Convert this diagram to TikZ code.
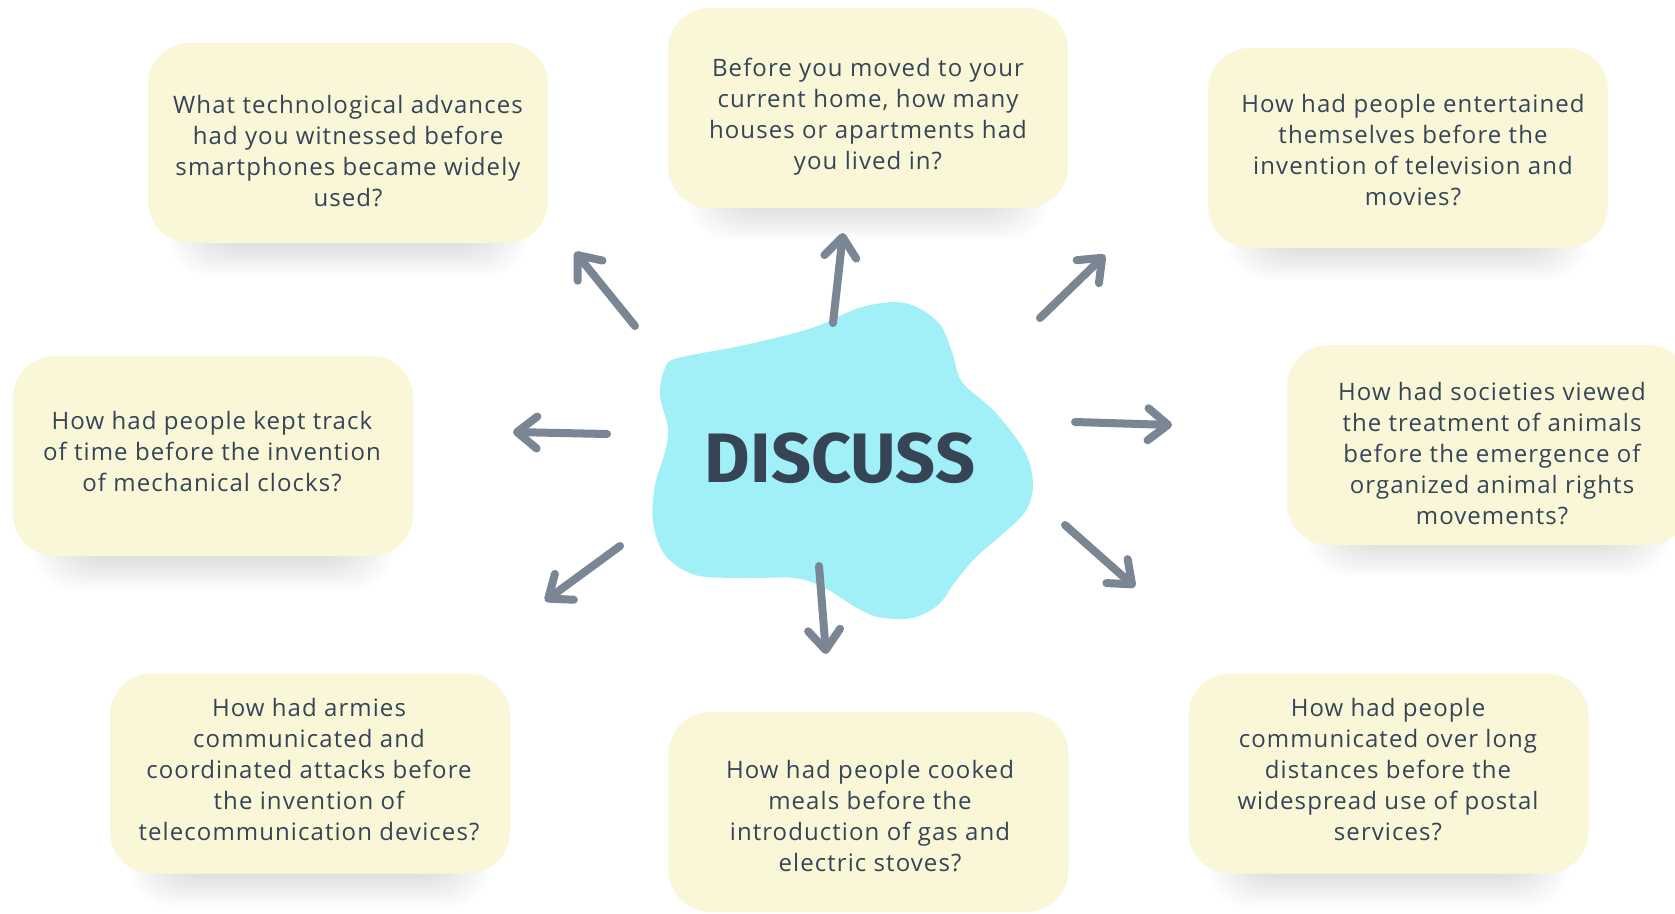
\documentclass[tikz,border=0pt]{standalone}
\usepackage{fontspec}
\setmainfont{Open Sans}[LetterSpace=4.5]
\newfontfamily\discfont{Fira Sans}
\usetikzlibrary{arrows.meta}
\definecolor{boxfill}{HTML}{F9F7D8}
\definecolor{blobcol}{HTML}{A2F0F7}
\definecolor{txtcol}{HTML}{364556}
\definecolor{arrcol}{HTML}{7A8694}
\tikzset{
  qbox/.style={fill=boxfill, rounded corners=42pt, minimum width=#1, minimum height=200pt, inner sep=0pt},
  qbox/.default=400pt,
  qtext/.style={text=txtcol, align=center, font=\fontsize{24}{31}\selectfont, inner sep=0pt},
  bigarrow/.style={draw=arrcol, line width=8pt, line cap=round,
    -{Straight Barb[length=20pt, width=32pt, line cap=round, line join=round]}},
}
\newcommand\softshadow[4]{%
  \foreach \k in {0,...,9}{%
    \fill[black, opacity=0.013, rounded corners=40pt]
      ({#1+20+4*\k},{#2+20+\k}) rectangle ({#3-20-4*\k},{#4+32-3*\k});
  }}
\begin{document}
\begin{tikzpicture}[x=1pt, y=-1pt]
\useasboundingbox (0,0) rectangle (1675,913);
\fill[white] (0,0) rectangle (1675,913);
% shadows
\softshadow{148}{43}{548}{243}
\softshadow{668}{8}{1068}{207}
\softshadow{1208}{48}{1608}{248}
\softshadow{13}{355}{413}{557}
\softshadow{1287}{347}{1690}{543}
\softshadow{110}{673}{510}{874}
\softshadow{1188}{673}{1589}{874}
% boxes
\node[qbox] (b1) at (348,143) {};
\node[qbox] (b2) at (868,108) {};
\node[qbox] (b3) at (1408,148) {};
\node[qbox] (b4) at (213,456) {};
\node[qbox=403pt] (b5) at (1488.5,445) {};
\node[qbox] (b6) at (310,773.5) {};
\node[qbox] (b7) at (868.5,812) {};
\node[qbox] (b8) at (1388.5,773.5) {};
% texts
\node[qtext] (t1) at (348,151) {What technological advances\\had you witnessed before\\smartphones became widely\\used?};
\node[qtext] (t2) at (868,117) {Before you moved to your\\current home, how many\\houses or apartments had\\you lived in?};
\node[qtext] (t3) at (1413,150) {How had people entertained\\themselves before the\\invention of television and\\movies?};
\node[qtext] (t4) at (212,452) {How had people kept track\\of time before the invention\\of mechanical clocks?};
\node[qtext] (t5) at (1492,454) {How had societies viewed\\the treatment of animals\\before the emergence of\\organized animal rights\\movements?};
\node[qtext] (t6) at (309,770) {How had armies\\communicated and\\coordinated attacks before\\the invention of\\telecommunication devices?};
\node[qtext] (t7) at (870,816) {How had people cooked\\meals before the\\introduction of gas and\\electric stoves?};
\node[qtext] (t8) at (1388,770) {How had people\\communicated over long\\distances before the\\widespread use of postal\\services?};
% blob
\fill[blobcol] plot[smooth cycle, tension=0.55] coordinates {
  (678,358) (745,345) (812,328) (862,307) (905,303) (938,322) (952,352)
  (962,382) (995,412) (1025,452) (1033,485) (1025,512) (998,538) (975,558)
  (955,582) (938,605) (912,618) (878,617) (852,605) (825,588) (795,578)
  (745,578) (695,575) (665,555) (653,522) (655,485) (665,452) (668,428)
  (660,395) (665,368)};
\node[text=txtcol, font=\discfont\bfseries\fontsize{70}{70}\selectfont, inner sep=0pt] (disc) at (840,458) {DISCUSS};
% arrow endpoints
\coordinate (s1) at (635,326); \coordinate (e1) at (575,252);
\coordinate (s2) at (833,323); \coordinate (e2) at (843,233);
\coordinate (s3) at (1040,318); \coordinate (e3) at (1105,255);
\coordinate (s4) at (607,434); \coordinate (e4) at (513,432);
\coordinate (s5) at (1075,422); \coordinate (e5) at (1172,425);
\coordinate (s6) at (620,546); \coordinate (e6) at (545,601);
\coordinate (s7) at (819,566); \coordinate (e7) at (826,654);
\coordinate (s8) at (1065,525); \coordinate (e8) at (1135,587);
\foreach \i in {1,...,8}{\draw[bigarrow] (s\i) -- (e\i);}
\end{tikzpicture}
\end{document}
